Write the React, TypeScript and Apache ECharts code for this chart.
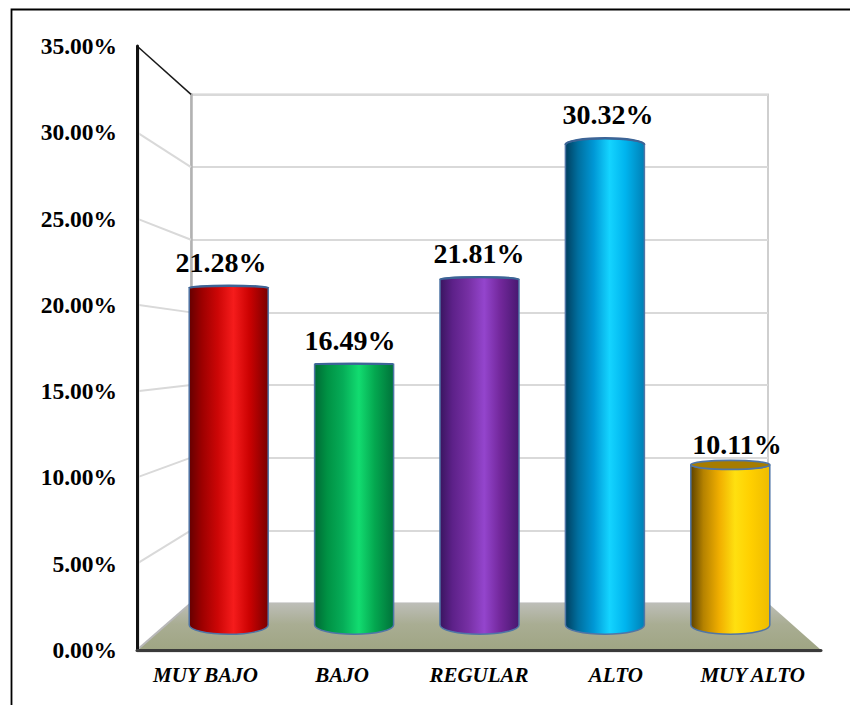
import React, { useEffect, useRef } from "react";
import * as echarts from "echarts";

const categories = ["MUY BAJO", "BAJO", "REGULAR", "ALTO", "MUY ALTO"];
const percentages = [21.28, 16.49, 21.81, 30.32, 10.11];
const percentTicks = [0, 5, 10, 15, 20, 25, 30, 35];
const barStops = [
  ["#650000", "#9c0000", "#cc0606", "#f51c1c", "#cc0202", "#7a0000"],
  ["#006a35", "#009244", "#06ad58", "#12dc70", "#04a850", "#00723a"],
  ["#3a1560", "#5d2189", "#7730a4", "#9445cd", "#73289c", "#481870"],
  ["#003f5f", "#006f9f", "#0098d6", "#14d4ff", "#00b4ee", "#0080b6"],
  ["#5e4300", "#b58200", "#f0ae00", "#ffe010", "#ffcf00", "#eebc00"],
];
const capColors = ["#3c6496", "#3c6496", "#3c6496", "#3c6496", "#a67c00"];

// Oblique box the plot sits in: front plane, back wall and floor corners.
const FRONT = { left: 137, right: 821, top: 46, bottom: 650 };
const BACK = { left: 191, right: 768, top: 94.4, bottom: 603 };
const MAX = 35;
const frontY = (v: number) => FRONT.bottom - (v / MAX) * (FRONT.bottom - FRONT.top);
const backY = (v: number) => BACK.bottom - (v / MAX) * (BACK.bottom - BACK.top);

// Cylinders stand on their own scale, between the front plane and the back wall.
const BAR_GRID = { left: 166, width: 627, top: 70.6, height: 554.4 };
const LABEL_GRID = { left: 156.5, width: 645, top: 37.75, height: 572.25 };
const EYE_LEVEL_Y = 360;
const RATIO_ABOVE_EYE = 0.03;
const RATIO_BELOW_EYE = 0.043;
const RATIO_BASE = 0.035;

function renderCylinder(params: any, api: any) {
  const i = api.value(0);
  const [cx, yTop] = api.coord([i, api.value(1)]);
  const [, yBase] = api.coord([i, 0]);
  const rx = api.size([1, 0])[0] * 0.315;
  const dy = yTop - EYE_LEVEL_Y;
  const ryTop = dy * (dy < 0 ? RATIO_ABOVE_EYE : RATIO_BELOW_EYE);
  const ryBase = (yBase - EYE_LEVEL_Y) * RATIO_BASE;
  const l = cx - rx;
  const r = cx + rx;
  const topSweep = ryTop < 0 ? 1 : 0;
  const body =
    `M${l} ${yTop}` +
    `A${rx} ${Math.max(Math.abs(ryTop), 0.1)} 0 0 ${topSweep} ${r} ${yTop}` +
    `L${r} ${yBase}` +
    `A${rx} ${ryBase} 0 0 1 ${l} ${yBase}Z`;
  const stops = barStops[i];
  const offsets = [0, 0.16, 0.36, 0.56, 0.76, 1];
  const children: any[] = [
    {
      type: "path",
      shape: { pathData: body },
      style: {
        fill: new echarts.graphic.LinearGradient(
          0, 0, 1, 0,
          stops.map((color, k) => ({ offset: offsets[k], color }))
        ),
        stroke: "#4f75a6",
        lineWidth: 1.5,
      },
    },
  ];
  if (ryTop > 1.5) {
    children.push({
      type: "ellipse",
      shape: { cx, cy: yTop, rx, ry: ryTop },
      style: { fill: capColors[i], stroke: "#4f75a6", lineWidth: 1.8 },
    });
  } else {
    children.push({
      type: "path",
      shape: { pathData: `M${l} ${yTop}A${rx} ${Math.max(Math.abs(ryTop), 0.1)} 0 0 1 ${r} ${yTop}` },
      style: { fill: "none", stroke: capColors[i], lineWidth: 2.4 },
    });
  }
  return { type: "group", children };
}

function renderFloor() {
  return {
    type: "polygon",
    shape: {
      points: [
        [FRONT.left, FRONT.bottom],
        [BACK.left, BACK.bottom],
        [BACK.right, BACK.bottom],
        [FRONT.right, FRONT.bottom],
      ],
    },
    style: {
      fill: new echarts.graphic.LinearGradient(0, 0, 0, 1, [
        { offset: 0, color: "#bdbeb8" },
        { offset: 0.45, color: "#a9ad93" },
        { offset: 1, color: "#9fa583" },
      ]),
    },
  };
}

function renderSideWallLine(params: any, api: any) {
  const v = api.value(0);
  const isTop = v === MAX;
  return {
    type: "line",
    shape: { x1: FRONT.left, y1: frontY(v), x2: BACK.left, y2: backY(v) },
    style: {
      stroke: isTop ? "#1a1a1a" : v === 0 ? "#b8b8b8" : "#d9d9d9",
      lineWidth: isTop ? 1.5 : 2,
    },
  };
}

const buildOption = () => ({
  animation: false,
  backgroundColor: "#ffffff",
  graphic: [
    {
      type: "polyline",
      shape: { points: [[11.5, 705], [11.5, 9.5], [850, 9.5]] },
      style: { fill: "none", stroke: "#000000", lineWidth: 1.8 },
    },
    // Soft edge alongside the two front axis lines.
    {
      type: "line",
      shape: { x1: FRONT.left + 2, y1: FRONT.top + 2, x2: FRONT.left + 2, y2: FRONT.bottom },
      style: { stroke: "#d4d4d4", lineWidth: 1 },
      z: 0,
    },
    {
      type: "line",
      shape: { x1: FRONT.left, y1: FRONT.bottom + 2, x2: FRONT.right, y2: FRONT.bottom + 2 },
      style: { stroke: "#d4d4d4", lineWidth: 1 },
      z: 0,
    },
  ],
  grid: [
    { left: FRONT.left, width: FRONT.right - FRONT.left, top: FRONT.top, height: FRONT.bottom - FRONT.top },
    {
      left: BACK.left,
      width: BACK.right - BACK.left,
      top: BACK.top,
      height: BACK.bottom - BACK.top,
      show: true,
      borderColor: "#cfcfcf",
      borderWidth: 2,
    },
    BAR_GRID,
    LABEL_GRID,
  ],
  xAxis: [
    {
      gridIndex: 0,
      type: "category",
      data: categories,
      z: 6,
      axisLine: { lineStyle: { color: "#3a3a3a", width: 3 } },
      axisTick: { show: false },
      axisLabel: {
        interval: 0,
        hideOverlap: false,
        margin: 14,
        color: "#000000",
        fontFamily: "Liberation Serif",
        fontWeight: "bold",
        fontStyle: "italic",
        fontSize: 21,
      },
    },
    { gridIndex: 1, type: "category", data: categories, show: false },
    { gridIndex: 2, type: "category", data: categories, show: false },
    { gridIndex: 3, type: "category", data: categories, show: false },
  ],
  yAxis: [
    {
      gridIndex: 0,
      type: "value",
      min: 0,
      max: MAX,
      interval: 5,
      z: 6,
      axisLine: { show: true, lineStyle: { color: "#111111", width: 3 } },
      axisTick: { show: false },
      splitLine: { show: false },
      axisLabel: {
        margin: 20,
        color: "#000000",
        fontFamily: "Liberation Serif",
        fontWeight: "bold",
        fontSize: 23.5,
        formatter: (v: number) => `${v.toFixed(2)}%`,
      },
    },
    {
      gridIndex: 1,
      type: "value",
      min: 0,
      max: MAX,
      interval: 5,
      axisLine: { show: true, lineStyle: { color: "#b2b2b2", width: 2.5 } },
      axisTick: { show: false },
      axisLabel: { show: false },
      splitLine: { show: true, lineStyle: { color: "#d9d9d9", width: 2 } },
    },
    { gridIndex: 2, type: "value", min: 0, max: MAX, show: false },
    { gridIndex: 3, type: "value", min: 0, max: MAX, show: false },
  ],
  series: [
    {
      type: "custom",
      coordinateSystem: "none",
      silent: true,
      z: 1,
      data: [0],
      renderItem: renderFloor,
    },
    {
      type: "custom",
      coordinateSystem: "none",
      silent: true,
      z: 2,
      data: percentTicks.map((v) => [v]),
      renderItem: renderSideWallLine,
    },
    {
      type: "custom",
      xAxisIndex: 2,
      yAxisIndex: 2,
      silent: true,
      z: 3,
      encode: { x: 0, y: 1 },
      data: percentages.map((v, i) => [i, v]),
      renderItem: renderCylinder,
    },
    {
      type: "scatter",
      xAxisIndex: 3,
      yAxisIndex: 3,
      silent: true,
      z: 7,
      symbolSize: 1,
      itemStyle: { color: "transparent", opacity: 1 },
      data: percentages,
      label: {
        show: true,
        position: "inside",
        color: "#000000",
        fontFamily: "Liberation Serif",
        fontWeight: "bold",
        fontSize: 28,
        formatter: (p: any) => `${p.value.toFixed(2)}%`,
      },
    },
  ],
});

export default function App() {
  const ref = useRef<HTMLDivElement>(null);
  useEffect(() => {
    const chart = echarts.init(ref.current!, undefined, { renderer: "svg" });
    chart.setOption(buildOption());
    return () => chart.dispose();
  }, []);
  return <div ref={ref} style={{ position: "absolute", left: 0, top: 0, width: 850, height: 705 }} />;
}
